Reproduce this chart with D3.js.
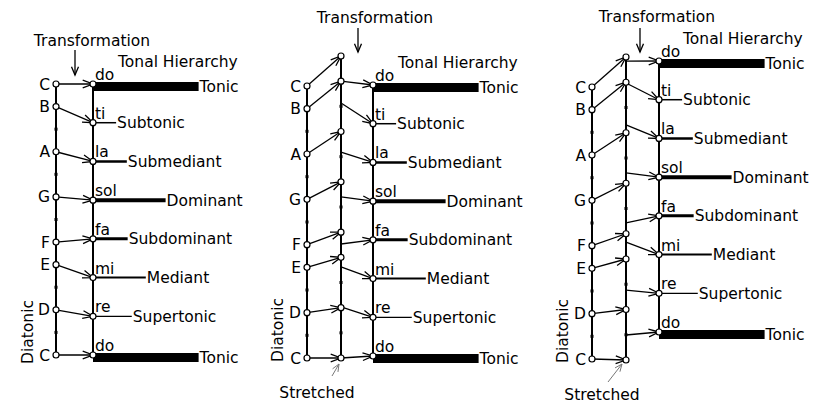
<!DOCTYPE html>
<html>
  <head>
    <meta charset="utf-8">
    <title>Diatonic to Tonal Hierarchy</title>
<style>
  body { margin: 0; background-color: #fff; }
  svg text { font-family: "DejaVu Sans", sans-serif; font-size: 15.5px; fill: #000; }
</style>
  </head>
  <body>
    <div id="viz"></div>

  <script src="https://cdnjs.cloudflare.com/ajax/libs/d3/7.8.5/d3.min.js"></script>
  <script>

    // diatonic notes (semitones above the low C)
    var notes = ["C", "D", "E", "F", "G", "A", "B", "C"];
    var pitches = [0, 2, 4, 5, 7, 9, 11, 12];
    var chromaticTicks = [1, 3, 6, 8, 10];

    // tonal hierarchy
    var degrees = ["do", "re", "mi", "fa", "sol", "la", "ti", "do"];
    var functions = ["Tonic", "Supertonic", "Mediant", "Subdominant", "Dominant", "Submediant", "Subtonic", "Tonic"];
    var steps = [0, 1, 2, 3, 4, 5, 6, 7];
    var hierarchy = [6.4, 2.35, 3.2, 2.1, 4.4, 2.05, 1.4, 6.4];

    // where the arrows leave the stretched scale (semitones on the stretched axis)
    var stretchedOut2 = [0, 2.03, 3.62, 4.53, 6.4, 8.18, 10.13, 11.0];
    var stretchedOut3 = [0.99, 2.77, 4.67, 5.43, 7.41, 9.31, 10.97, 11.84];

    // styles for the hierarchy lines
    var lineWidth = [9, 1.2, 2, 3, 4, 2.5, 1.5, 9];

    (function() {

      var width = 825, height = 404;

      var svg = d3.select("#viz").append("svg")
          .attr("width", width)
          .attr("height", height);

      var len = d3.scaleLinear().domain([0, 1]).range([0, 16.5]);

      var panels = [
        { dx: 56,  dy: [355, 84], tx: 93,  ty: [355, 84], sx: null, out: null,
          trans: [92, 46], tArrow: [75, 50, 75], hier: [118, 67], dia: [33, 332], str: null },
        { dx: 307, dy: [358, 86], tx: 373, ty: [356, 85], sx: 341, sy: [358, 56], out: stretchedOut2,
          trans: [375, 23], tArrow: [358, 28, 52], hier: [398, 68], dia: [283, 330],
          str: [317, 398, 332, 376, 339, 364] },
        { dx: 592, dy: [359, 87], tx: 659, ty: [332, 61], sx: 626, sy: [360, 57], out: stretchedOut3,
          trans: [657, 22], tArrow: [640, 28, 52], hier: [683, 44], dia: [568, 331],
          str: [602, 400, 608, 382, 622, 364] }
      ];

      function headPath(x1, y1, x2, y2, l, ang) {
        var a = Math.atan2(y2 - y1, x2 - x1);
        return "M" + (x2 - l * Math.cos(a - ang)) + "," + (y2 - l * Math.sin(a - ang)) +
               "L" + x2 + "," + y2 +
               "L" + (x2 - l * Math.cos(a + ang)) + "," + (y2 - l * Math.sin(a + ang));
      }

      function arrow(g, x1, y1, x2, y2, opts) {
        opts = opts || {};
        var col = opts.color || "#000", sw = opts.width || 1.3;
        g.append("line")
            .attr("x1", x1).attr("y1", y1).attr("x2", x2).attr("y2", y2)
            .attr("stroke", col).attr("stroke-width", sw);
        g.append("path")
            .attr("d", headPath(x1, y1, x2, y2, opts.head || 11, opts.ang || 0.36))
            .attr("fill", "none").attr("stroke", col).attr("stroke-width", sw);
      }

      panels.forEach(function(p) {
        var g = svg.append("g");

        var yD = d3.scaleLinear().domain([0, 12]).range(p.dy);
        var yT = d3.scaleLinear().domain([0, 7]).range(p.ty);
        var yS = p.sx ? d3.scaleLinear().domain([0, 12]).range(p.sy) : null;

        // hierarchy lines / bars
        steps.forEach(function(s, i) {
          var y = yT(s), x0 = p.tx, x1 = p.tx + len(hierarchy[i]);
          if (lineWidth[i] > 6) {
            g.append("rect")
                .attr("x", x0).attr("y", y - 2)
                .attr("width", x1 - x0).attr("height", lineWidth[i])
                .attr("fill", "#000");
            g.append("text")
                .attr("x", x1 + 1).attr("y", y + 2.5).attr("dy", "0.35em")
                .text(functions[i]);
          } else {
            g.append("line")
                .attr("x1", x0).attr("y1", y).attr("x2", x1).attr("y2", y)
                .attr("stroke", "#000").attr("stroke-width", lineWidth[i]);
            g.append("text")
                .attr("x", x1 + 1).attr("y", y).attr("dy", "0.35em")
                .text(functions[i]);
          }
          g.append("text")
              .attr("x", p.tx + 2).attr("y", y - 4)
              .text(degrees[i]);
        });

        // axes
        g.append("line")
            .attr("x1", p.dx).attr("x2", p.dx).attr("y1", yD(0)).attr("y2", yD(12))
            .attr("stroke", "#000").attr("stroke-width", 2);
        g.append("line")
            .attr("x1", p.tx).attr("x2", p.tx).attr("y1", yT(0)).attr("y2", yT(7))
            .attr("stroke", "#000").attr("stroke-width", 2);
        if (yS) {
          g.append("line")
              .attr("x1", p.sx).attr("x2", p.sx).attr("y1", yS(0)).attr("y2", yS(12))
              .attr("stroke", "#000").attr("stroke-width", 2);
        }

        // chromatic ticks
        chromaticTicks.forEach(function(t) {
          g.append("rect").attr("x", p.dx - 1.5).attr("y", yD(t) - 1.5)
              .attr("width", 3).attr("height", 3).attr("fill", "#000");
          if (yS) g.append("rect").attr("x", p.sx - 1.5).attr("y", yS(t) - 1.5)
              .attr("width", 3).attr("height", 3).attr("fill", "#000");
        });

        // arrows
        pitches.forEach(function(n, i) {
          if (!yS) {
            arrow(g, p.dx, yD(n), p.tx, yT(steps[i]));
          } else {
            arrow(g, p.dx, yD(n), p.sx, yS(n));
            arrow(g, p.sx, yS(p.out[i]), p.tx, yT(steps[i]));
          }
        });

        // circles
        pitches.forEach(function(n, i) {
          g.append("circle").attr("cx", p.dx).attr("cy", yD(n)).attr("r", 3)
              .attr("fill", "#fff").attr("stroke", "#000").attr("stroke-width", 1.2);
          if (yS) g.append("circle").attr("cx", p.sx).attr("cy", yS(n)).attr("r", 3)
              .attr("fill", "#fff").attr("stroke", "#000").attr("stroke-width", 1.2);
          g.append("circle").attr("cx", p.tx).attr("cy", yT(steps[i])).attr("r", 3)
              .attr("fill", "#fff").attr("stroke", "#000").attr("stroke-width", 1.2);
          g.append("text")
              .attr("x", p.dx - 6).attr("y", yD(n)).attr("dy", "0.36em")
              .style("text-anchor", "end")
              .text(notes[i]);
        });

        // labels
        g.append("text").attr("x", p.trans[0]).attr("y", p.trans[1])
            .style("text-anchor", "middle").text("Transformation");
        arrow(g, p.tArrow[0], p.tArrow[1], p.tArrow[0], p.tArrow[2], { head: 9, ang: 0.4 });
        g.append("text").attr("x", p.hier[0]).attr("y", p.hier[1]).text("Tonal Hierarchy");
        g.append("text")
            .attr("transform", "translate(" + p.dia[0] + "," + p.dia[1] + ") rotate(-90)")
            .style("text-anchor", "middle")
            .text("Diatonic");
        if (p.str) {
          g.append("text").attr("x", p.str[0]).attr("y", p.str[1])
              .style("text-anchor", "middle").text("Stretched");
          arrow(g, p.str[2], p.str[3], p.str[4], p.str[5], { color: "#777", width: 1, head: 8, ang: 0.4 });
        }
      });

    })();

  </script>
  </body>
</html>
